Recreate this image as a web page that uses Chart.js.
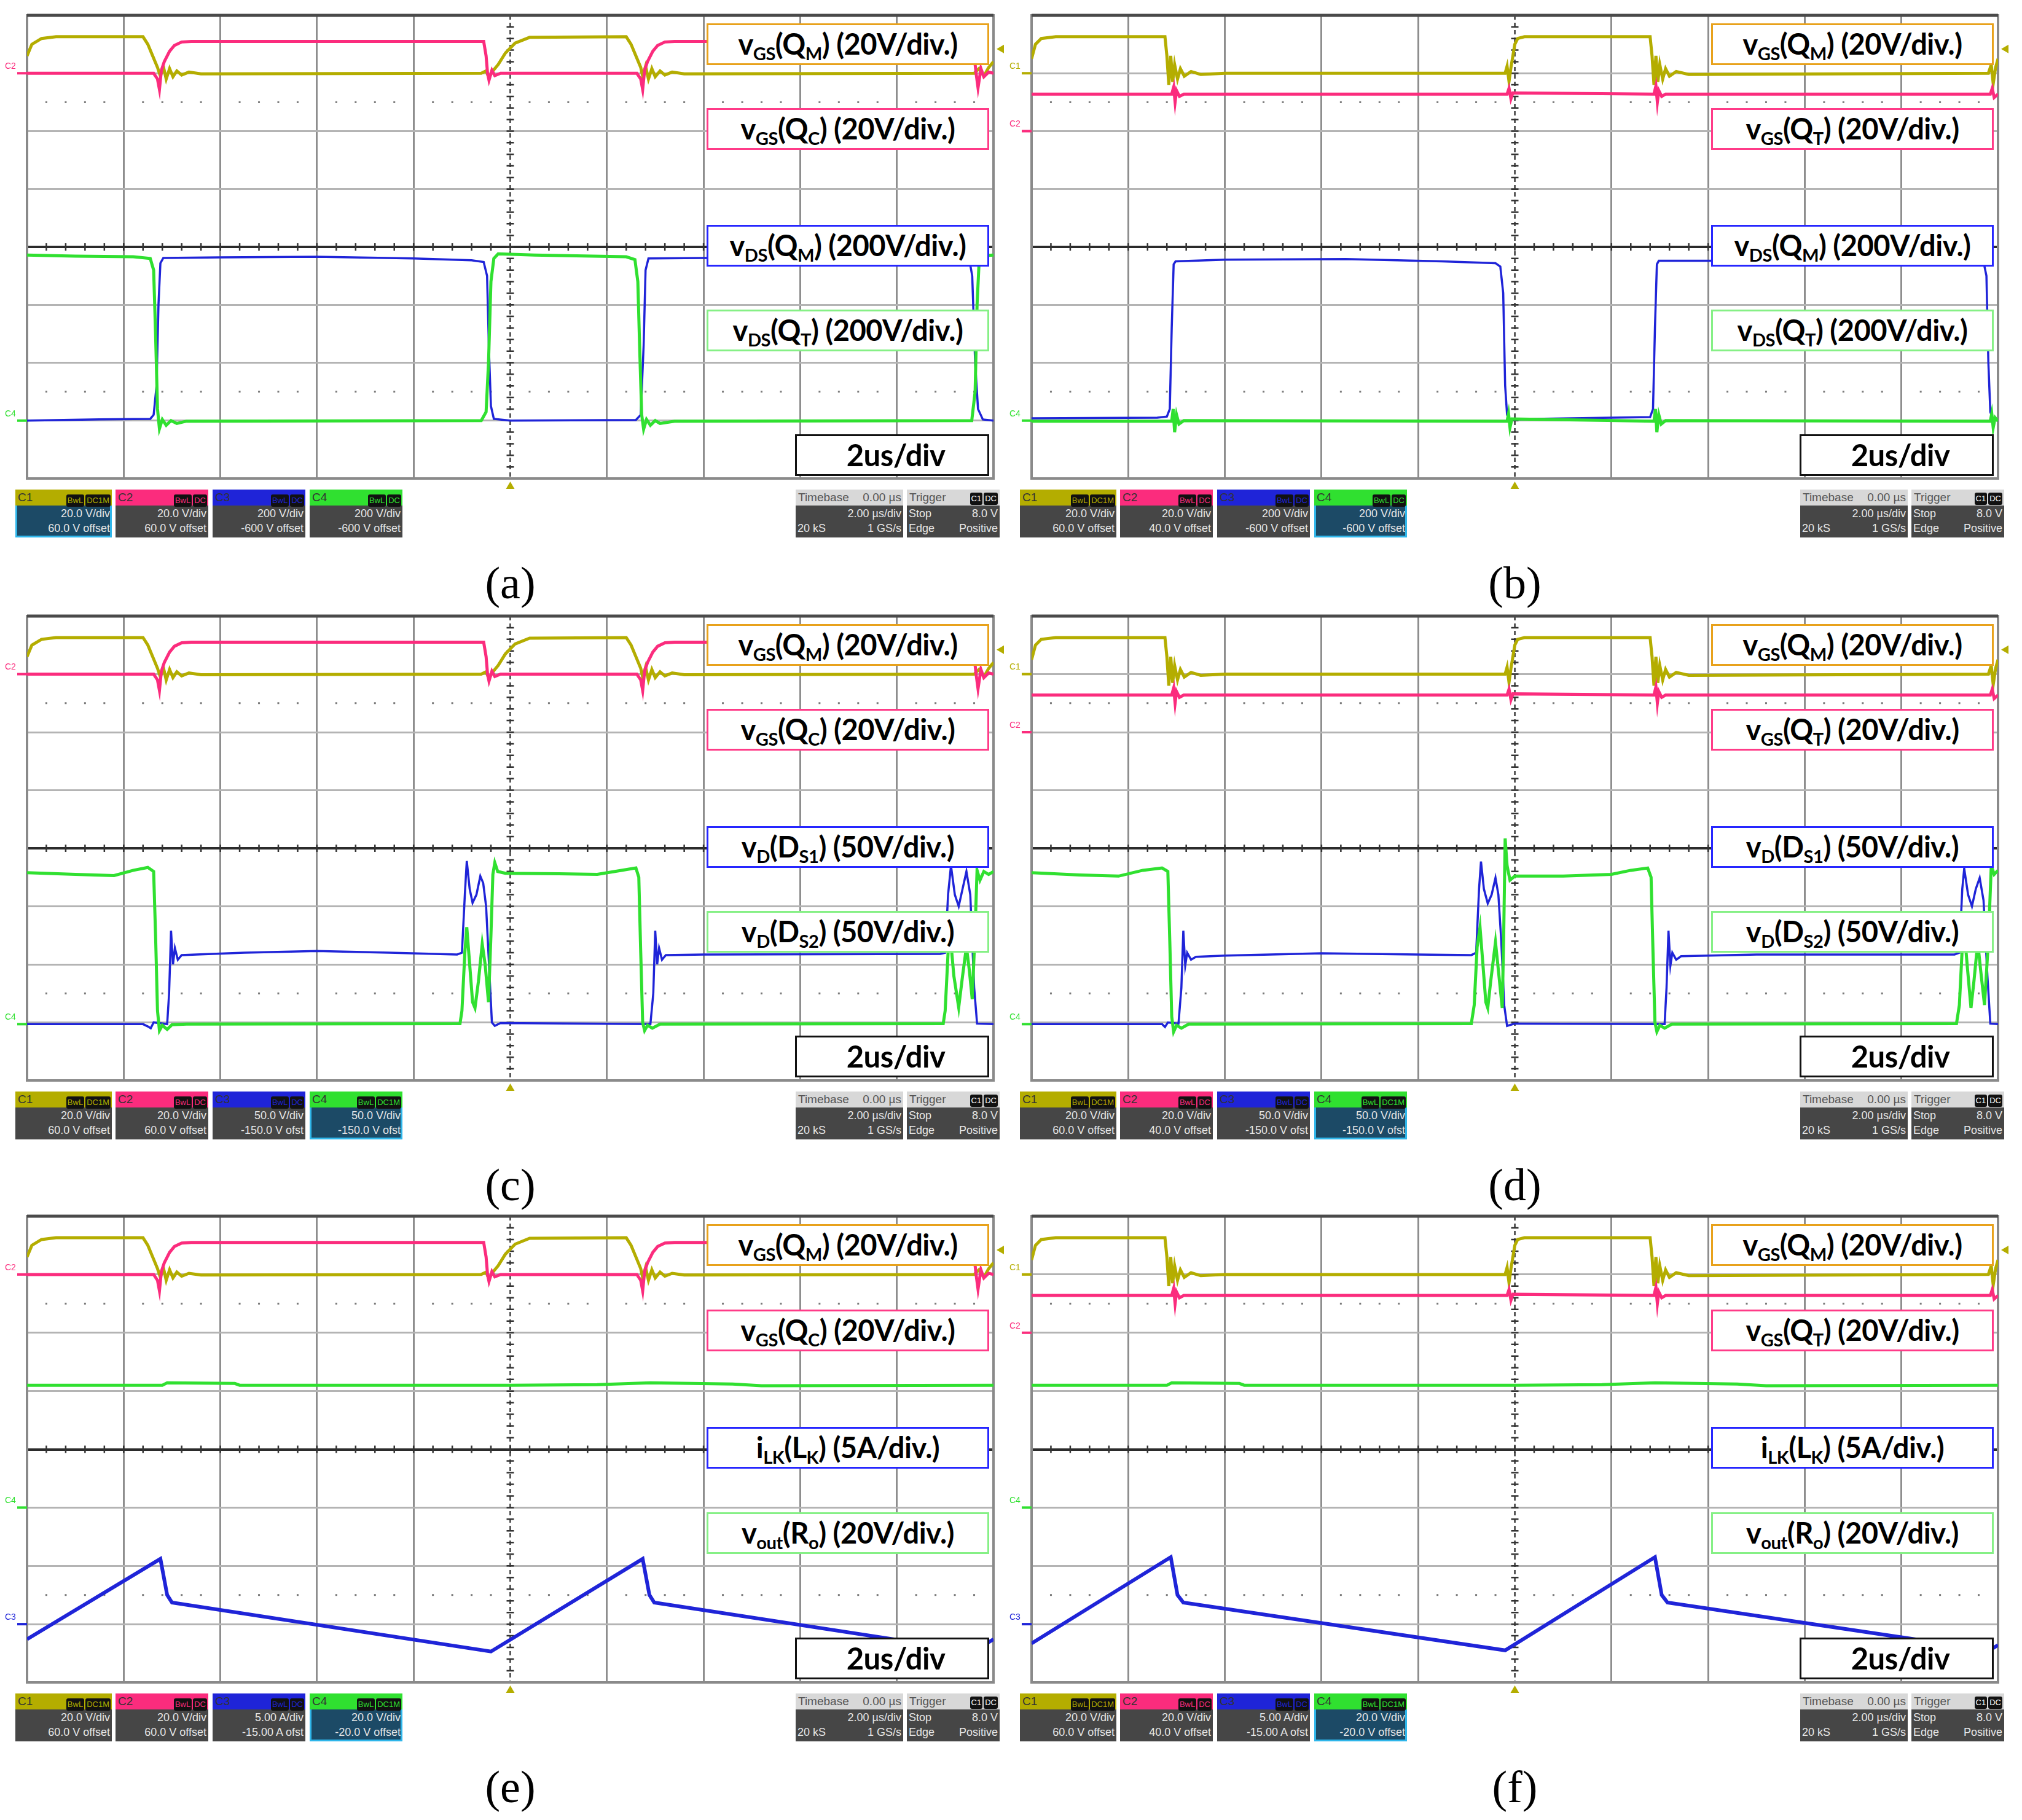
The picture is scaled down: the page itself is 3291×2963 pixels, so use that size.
<!DOCTYPE html>
<html>
<head>
<meta charset="utf-8">
<script src="https://cdn.jsdelivr.net/npm/chart.js@4.4.1/dist/chart.umd.min.js"></script>
<style>
  html,body{margin:0;padding:0;background:#fff}
  #page{position:relative;width:3291px;height:2963px;overflow:hidden;background:#fff}
  #page canvas{position:absolute}
  .lbl{position:absolute;box-sizing:border-box;border:3px solid;background:#fff;z-index:3;
       text-align:center;font:700 47px Lato,'Open Sans',sans-serif;color:#000;white-space:nowrap;letter-spacing:-0.5px}
  .lbl span{display:inline-block}
  .lbl sub{font-size:0.62em;vertical-align:-0.3em;line-height:0}
  .cap{position:absolute;font:74px 'Liberation Serif','DejaVu Serif',serif;color:#000;transform:translateX(-50%)}
  .box{position:absolute;height:78px;box-sizing:border-box;font:18px 'Liberation Sans',Arial,sans-serif;color:#e6e6e6;overflow:hidden}
  .box .hd{height:26px;position:relative;line-height:26px;padding-left:4px;color:#333;font-size:19px}
  .box .hd .bg{position:absolute;right:2px;top:3px}
  .box .hd b{display:inline-block;background:#111;border-radius:3px;font:13px/20px Arial,sans-serif;padding:0 2px;margin-left:2px}
  .box .bd{height:52px;background:#464646;padding:1px 3px 0 3px;line-height:24px}
  .box .row{display:flex;justify-content:space-between}
  .box .rt{text-align:right}
  .box.sel{outline:3px solid #2fb6ea;outline-offset:-3px}
  .box.sel .bd{background:#1c4a66}
  .box.tb .hd{background:#d8d8d8;color:#555;display:flex;justify-content:space-between;padding-right:3px}
</style>
</head>
<body>
<div id="page"></div>
<script>
// Six scope captures, 10 x 8 divisions, 2 us/div.
// Every trace point is [time in us, level in divisions from the bottom].

// gate signals, (a) (c) (e)
const vgsQM_ace = [[0,7.3],[0.1,7.5],[0.3,7.6],[0.6,7.63],[2.4,7.63],[2.5,7.5],[2.6,7.3],[2.7,7.1],[2.76,6.95],[2.82,7.12],[2.88,6.9],[2.95,7.08],[3.02,6.94],[3.1,7.04],[3.2,6.97],[3.35,7.02],[3.6,6.99],[9.4,7.0],[9.5,7.04],[9.56,6.92],[9.62,7.02],[9.75,7.15],[9.9,7.35],[10.1,7.52],[10.4,7.62],[12.4,7.63],[12.5,7.5],[12.6,7.3],[12.7,7.1],[12.74,6.95],[12.8,7.12],[12.86,6.9],[12.93,7.08],[13.0,6.94],[13.1,7.04],[13.2,6.97],[13.35,7.02],[13.6,6.99],[19.6,7.0],[19.7,7.08],[19.8,6.95],[19.9,7.1],[20,7.2]];
const vgsQC_ace = [[0,7.0],[2.62,7.0],[2.7,6.9],[2.74,6.72],[2.78,7.05],[2.84,7.2],[2.95,7.38],[3.05,7.48],[3.2,7.54],[3.4,7.55],[9.45,7.55],[9.5,7.3],[9.53,7.0],[9.56,6.88],[9.62,7.05],[9.68,6.96],[9.8,7.0],[12.62,7.0],[12.7,6.9],[12.74,6.72],[12.78,7.05],[12.84,7.2],[12.95,7.38],[13.05,7.48],[13.2,7.54],[13.4,7.55],[19.55,7.55],[19.6,7.3],[19.64,7.0],[19.68,6.75],[19.74,7.08],[19.8,6.94],[19.9,7.02],[20,7.0]];
// gate signals, (b) (d) (f)
const vgsQM_bdf = [[0,7.25],[0.08,7.5],[0.2,7.6],[0.5,7.63],[2.76,7.63],[2.8,7.3],[2.84,6.8],[2.88,7.3],[2.92,6.85],[2.96,7.15],[3.02,6.9],[3.08,7.08],[3.16,6.95],[3.3,7.03],[3.5,6.98],[4,7.0],[9.8,7.0],[9.84,7.12],[9.88,6.86],[9.92,7.1],[9.96,7.3],[10.0,7.5],[10.06,7.6],[10.2,7.63],[12.8,7.63],[12.84,7.3],[12.88,6.8],[12.92,7.3],[12.96,6.85],[13.0,7.15],[13.06,6.9],[13.12,7.08],[13.2,6.95],[13.34,7.03],[13.6,6.98],[19.8,7.0],[19.86,7.15],[19.9,6.82],[19.95,7.1],[20,7.25]];
const vgsQT_bdf = [[0,6.64],[2.9,6.64],[2.94,6.76],[2.97,6.5],[3.0,6.7],[3.06,6.6],[3.15,6.64],[9.84,6.64],[9.88,6.74],[9.92,6.56],[9.96,6.66],[12.88,6.64],[12.92,6.78],[12.95,6.5],[12.98,6.7],[13.04,6.6],[13.12,6.64],[19.84,6.64],[19.88,6.74],[19.92,6.58],[20,6.64]];

// drain-source voltages
const vdsQM_a = [[0,1.0],[1.5,1.02],[2.55,1.03],[2.62,1.1],[2.68,1.6],[2.72,3.0],[2.76,3.72],[2.82,3.81],[4,3.82],[6,3.83],[8,3.8],[9.2,3.77],[9.45,3.74],[9.52,3.5],[9.56,2.2],[9.6,1.25],[9.66,1.03],[10,1.0],[12.6,1.01],[12.7,1.1],[12.76,2.3],[12.8,3.6],[12.86,3.8],[14,3.81],[19.5,3.78],[19.56,3.5],[19.62,2.0],[19.68,1.2],[19.78,1.02],[20,1.0]];
const vdsQT_a = [[0,3.86],[1,3.84],[2.2,3.83],[2.55,3.8],[2.62,3.6],[2.66,2.5],[2.7,1.2],[2.74,0.86],[2.8,1.02],[2.88,0.92],[2.98,1.0],[3.1,0.95],[3.3,0.99],[9.4,1.0],[9.5,1.15],[9.55,2.0],[9.6,3.4],[9.66,3.8],[9.75,3.88],[10.5,3.86],[12.4,3.83],[12.58,3.78],[12.64,3.4],[12.68,2.2],[12.72,1.1],[12.76,0.85],[12.82,1.02],[12.9,0.92],[13.0,1.0],[13.1,0.95],[13.4,0.99],[19.55,1.0],[19.62,1.5],[19.66,3.0],[19.7,3.7],[19.8,3.85],[20,3.86]];
const vdsQM_b = [[0,1.04],[2.6,1.05],[2.8,1.07],[2.86,1.2],[2.9,2.6],[2.94,3.7],[2.98,3.75],[4,3.78],[6.5,3.79],[8.5,3.75],[9.6,3.72],[9.7,3.66],[9.76,3.2],[9.8,1.6],[9.84,1.1],[9.9,1.02],[10.4,1.03],[12.8,1.06],[12.86,1.2],[12.9,2.6],[12.94,3.7],[12.98,3.76],[14,3.76],[19.7,3.74],[19.76,3.5],[19.8,2.0],[19.84,1.15],[19.9,1.02],[20,1.0]];
const vdsQT_b = [[0,0.99],[2.9,0.99],[2.93,1.2],[2.96,0.8],[3.0,1.1],[3.05,0.94],[3.15,1.0],[9.84,0.99],[9.87,1.12],[9.9,0.88],[9.94,1.03],[12.88,0.99],[12.91,1.2],[12.94,0.8],[12.98,1.1],[13.03,0.94],[13.12,1.0],[19.84,0.99],[19.87,1.12],[19.9,0.88],[19.94,1.05],[20,0.99]];

// diode voltages
const vdDS1_c = [[0,0.97],[2.4,0.97],[2.5,0.93],[2.56,0.9],[2.62,1.0],[2.9,0.97],[2.94,1.5],[2.98,2.58],[3.02,2.0],[3.06,2.28],[3.12,2.08],[3.2,2.16],[3.5,2.17],[4.5,2.2],[6,2.23],[7.5,2.2],[8.9,2.17],[9.0,2.2],[9.06,3.2],[9.1,3.78],[9.16,3.3],[9.22,3.06],[9.3,3.2],[9.38,3.52],[9.44,3.4],[9.5,3.0],[9.56,2.0],[9.62,1.0],[9.68,0.94],[9.8,0.99],[12.9,0.97],[12.96,1.5],[13.0,2.58],[13.04,2.0],[13.08,2.28],[13.14,2.08],[13.22,2.16],[14,2.17],[18.9,2.18],[19.0,2.2],[19.06,3.2],[19.12,3.7],[19.2,3.2],[19.28,3.0],[19.36,3.3],[19.44,3.6],[19.52,3.2],[19.6,1.6],[19.66,0.98],[20,0.97]];
const vdDS2_c = [[0,3.58],[1,3.55],[1.8,3.53],[2.2,3.62],[2.5,3.67],[2.62,3.6],[2.66,2.5],[2.7,1.2],[2.74,0.86],[2.8,0.95],[2.9,0.88],[3.0,0.96],[3.3,0.97],[8.96,0.98],[9.0,1.2],[9.06,2.2],[9.1,2.64],[9.16,2.0],[9.22,1.35],[9.27,1.25],[9.34,1.7],[9.42,2.35],[9.48,2.0],[9.55,1.35],[9.6,2.5],[9.64,3.55],[9.68,3.75],[9.74,3.6],[9.9,3.57],[11,3.56],[11.8,3.55],[12.3,3.62],[12.6,3.66],[12.66,3.5],[12.7,2.2],[12.74,1.0],[12.78,0.86],[12.84,0.95],[12.94,0.9],[13.1,0.97],[18.96,0.98],[19.0,1.2],[19.06,2.2],[19.1,2.55],[19.18,1.8],[19.28,1.26],[19.36,1.8],[19.44,2.3],[19.5,1.9],[19.56,1.4],[19.62,2.6],[19.66,3.62],[19.72,3.45],[19.8,3.6],[19.9,3.55],[20,3.6]];
const vdDS1_d = [[0,0.97],[2.7,0.97],[2.76,0.92],[2.82,1.0],[3.04,0.98],[3.1,1.6],[3.14,2.58],[3.18,1.98],[3.22,2.2],[3.3,2.08],[3.4,2.13],[4,2.15],[6,2.19],[8,2.17],[9.1,2.16],[9.2,2.2],[9.26,3.3],[9.3,3.77],[9.36,3.3],[9.44,3.05],[9.52,3.2],[9.6,3.49],[9.66,3.2],[9.72,2.4],[9.78,1.3],[9.84,0.94],[10,0.98],[13.1,0.97],[13.14,1.6],[13.18,2.58],[13.22,1.98],[13.26,2.2],[13.34,2.08],[13.44,2.14],[15,2.17],[19.1,2.17],[19.2,2.2],[19.26,3.3],[19.3,3.65],[19.38,3.2],[19.46,3.0],[19.54,3.3],[19.62,3.49],[19.7,3.1],[19.78,1.8],[19.84,0.98],[20,0.97]];
const vdDS2_d = [[0,3.58],[1,3.54],[1.8,3.52],[2.3,3.62],[2.7,3.66],[2.82,3.6],[2.86,2.4],[2.9,1.1],[2.94,0.84],[3.0,0.95],[3.1,0.9],[3.25,0.97],[9.1,0.98],[9.16,1.3],[9.22,2.3],[9.28,2.64],[9.34,2.0],[9.4,1.35],[9.44,1.25],[9.5,1.7],[9.6,2.38],[9.66,1.9],[9.74,1.25],[9.77,2.5],[9.8,4.17],[9.84,3.7],[9.9,3.45],[10.0,3.52],[11,3.52],[12,3.55],[12.4,3.62],[12.75,3.66],[12.82,3.5],[12.86,2.2],[12.9,1.0],[12.94,0.84],[13.0,0.95],[13.1,0.9],[13.25,0.97],[19.14,0.98],[19.2,1.3],[19.26,2.3],[19.3,2.6],[19.36,2.0],[19.44,1.25],[19.5,1.7],[19.58,2.38],[19.64,1.9],[19.72,1.3],[19.8,2.4],[19.86,3.7],[19.92,3.55],[20,3.62]];

// inductor current and output voltage
const iLK_e = [[0,0.74],[2.76,2.12],[2.9,1.5],[3.0,1.37],[9.6,0.53],[12.74,2.12],[12.88,1.5],[12.98,1.37],[19.58,0.53],[20,0.74]];
const iLK_f = [[0,0.67],[2.88,2.15],[3.02,1.5],[3.14,1.37],[9.8,0.55],[12.9,2.15],[13.04,1.5],[13.16,1.37],[19.82,0.55],[20,0.64]];
const vout_ef = [[0,5.1],[2.8,5.1],[2.9,5.14],[4.3,5.13],[4.4,5.1],[10,5.1],[11.8,5.11],[12.9,5.14],[14.6,5.12],[15.2,5.09],[20,5.1]];

// channel boxes under each screen: [scale, offset, coupling]
const chanA = [['20.0 V/div','60.0 V offset','DC1M'],['20.0 V/div','60.0 V offset','DC'],['200 V/div','-600 V offset','DC'],['200 V/div','-600 V offset','DC']];
const chanB = [['20.0 V/div','60.0 V offset','DC1M'],['20.0 V/div','40.0 V offset','DC'],['200 V/div','-600 V offset','DC'],['200 V/div','-600 V offset','DC']];
const chanC = [['20.0 V/div','60.0 V offset','DC1M'],['20.0 V/div','60.0 V offset','DC'],['50.0 V/div','-150.0 V ofst','DC'],['50.0 V/div','-150.0 V ofst','DC1M']];
const chanD = [['20.0 V/div','60.0 V offset','DC1M'],['20.0 V/div','40.0 V offset','DC'],['50.0 V/div','-150.0 V ofst','DC'],['50.0 V/div','-150.0 V ofst','DC1M']];
const chanE = [['20.0 V/div','60.0 V offset','DC1M'],['20.0 V/div','60.0 V offset','DC'],['5.00 A/div','-15.00 A ofst','DC'],['20.0 V/div','-20.0 V offset','DC1M']];
const chanF = [['20.0 V/div','60.0 V offset','DC1M'],['20.0 V/div','40.0 V offset','DC'],['5.00 A/div','-15.00 A ofst','DC'],['20.0 V/div','-20.0 V offset','DC1M']];

// label texts
const L_QM = 'v<sub>GS</sub>(Q<sub>M</sub>) (20V/div.)';
const L_QC = 'v<sub>GS</sub>(Q<sub>C</sub>) (20V/div.)';
const L_QT = 'v<sub>GS</sub>(Q<sub>T</sub>) (20V/div.)';
const L_DSM = 'v<sub>DS</sub>(Q<sub>M</sub>) (200V/div.)';
const L_DST = 'v<sub>DS</sub>(Q<sub>T</sub>) (200V/div.)';
const L_DS1 = 'v<sub>D</sub>(D<sub>S1</sub>) (50V/div.)';
const L_DS2 = 'v<sub>D</sub>(D<sub>S2</sub>) (50V/div.)';
const L_ILK = 'i<sub>LK</sub>(L<sub>K</sub>) (5A/div.)';
const L_OUT = 'v<sub>out</sub>(R<sub>o</sub>) (20V/div.)';

const COLORS = ['#b4ad00','#fb2c7d','#1f24d8','#30e030'];
const WIDTHS = [5, 5, 3.5, 5];
const BOX_COLORS = ['#e8a21c','#ff3b88','#2626ff','#86f086'];

// layout
const COL_X = [44, 1679], PLOT_W = 1573;
const ROW_Y = [25, 1003, 1980], ROW_H = [754, 756, 759];
const PAD = {left:40, right:28, top:8, bottom:26};

const panels = [
  {cap:'(a)', col:0, row:0, tr:[vgsQM_ace, vgsQC_ace, vdsQM_a, vdsQT_a], lab:[L_QM,L_QC,L_DSM,L_DST], ch:chanA, sel:0, mk:[[1,7.0],[3,1.0]]},
  {cap:'(b)', col:1, row:0, tr:[vgsQM_bdf, vgsQT_bdf, vdsQM_b, vdsQT_b], lab:[L_QM,L_QT,L_DSM,L_DST], ch:chanB, sel:3, mk:[[0,7.0],[1,6.0],[3,1.0]]},
  {cap:'(c)', col:0, row:1, tr:[vgsQM_ace, vgsQC_ace, vdDS1_c, vdDS2_c], lab:[L_QM,L_QC,L_DS1,L_DS2], ch:chanC, sel:3, mk:[[1,7.0],[3,0.97]]},
  {cap:'(d)', col:1, row:1, tr:[vgsQM_bdf, vgsQT_bdf, vdDS1_d, vdDS2_d], lab:[L_QM,L_QT,L_DS1,L_DS2], ch:chanD, sel:3, mk:[[0,7.0],[1,6.0],[3,0.97]]},
  {cap:'(e)', col:0, row:2, tr:[vgsQM_ace, vgsQC_ace, iLK_e, vout_ef], lab:[L_QM,L_QC,L_ILK,L_OUT], ch:chanE, sel:3, mk:[[1,7.0],[3,3.0],[2,1.0]], thick:true},
  {cap:'(f)', col:1, row:2, tr:[vgsQM_bdf, vgsQT_bdf, iLK_f, vout_ef], lab:[L_QM,L_QT,L_ILK,L_OUT], ch:chanF, sel:3, mk:[[0,7.0],[1,6.0],[3,3.0],[2,1.0]], thick:true}
];

// scope graticule extras: dotted rows, centre ticks, frame, markers
const scopeDecor = {
  id:'scopeDecor',
  beforeDatasetsDraw(chart, args, opts){
    const {ctx, chartArea:a, scales:{x, y}} = chart;
    ctx.save();
    ctx.fillStyle = '#7a7a7a';
    [6.5, 1.5].forEach(v=>{
      const py = y.getPixelForValue(v);
      for(let k=1;k<50;k++){ if(k%5===0) continue; ctx.fillRect(x.getPixelForValue(k*0.4)-1.5, py-1.5, 3, 3); }
    });
    // centre vertical, dashed, with ticks
    const cx = x.getPixelForValue(10), cy = y.getPixelForValue(4);
    ctx.strokeStyle = '#5a5a5a'; ctx.lineWidth = 3; ctx.setLineDash([7,5]);
    ctx.beginPath(); ctx.moveTo(cx, a.top); ctx.lineTo(cx, a.bottom); ctx.stroke();
    ctx.setLineDash([]); ctx.lineWidth = 2.5;
    ctx.beginPath();
    for(let k=1;k<40;k++){ const py=y.getPixelForValue(k*0.2); ctx.moveTo(cx-6,py); ctx.lineTo(cx+6,py); }
    ctx.strokeStyle = '#333';
    for(let k=1;k<50;k++){ const px=x.getPixelForValue(k*0.4); ctx.moveTo(px,cy-6); ctx.lineTo(px,cy+6); }
    ctx.stroke();
    // frame
    ctx.strokeStyle = '#8a8a8a'; ctx.lineWidth = 4;
    ctx.strokeRect(a.left, a.top, a.right-a.left, a.bottom-a.top);
    ctx.strokeStyle = '#4a4a4a'; ctx.lineWidth = 5;
    ctx.beginPath(); ctx.moveTo(a.left, a.top); ctx.lineTo(a.right, a.top); ctx.stroke();
    ctx.restore();
  },
  afterDatasetsDraw(chart, args, opts){
    const {ctx, chartArea:a, scales:{x, y}} = chart;
    ctx.save();
    // trigger level (right) and trigger position (bottom)
    ctx.fillStyle = '#b4ad00';
    const ty = y.getPixelForValue(7.42);
    ctx.beginPath(); ctx.moveTo(a.right+5, ty); ctx.lineTo(a.right+17, ty-7); ctx.lineTo(a.right+17, ty+7); ctx.fill();
    const tx = x.getPixelForValue(10);
    ctx.beginPath(); ctx.moveTo(tx, a.bottom+5); ctx.lineTo(tx-7, a.bottom+17); ctx.lineTo(tx+7, a.bottom+17); ctx.fill();
    // channel ground markers
    ctx.font = '14px Arial, sans-serif'; ctx.textBaseline = 'bottom';
    (opts.markers||[]).forEach(([c, v])=>{
      const py = y.getPixelForValue(v);
      ctx.fillStyle = COLORS[c]; ctx.strokeStyle = COLORS[c]; ctx.lineWidth = 4;
      ctx.fillText('C'+(c+1), a.left-36, py-4);
      ctx.beginPath(); ctx.moveTo(a.left-16, py); ctx.lineTo(a.left, py); ctx.stroke();
    });
    ctx.restore();
  }
};

const page = document.getElementById('page');
const el = (tag, cls, css, html) => { const e=document.createElement(tag); if(cls) e.className=cls; if(css) e.style.cssText=css; if(html!=null) e.innerHTML=html; page.appendChild(e); return e; };

panels.forEach(p=>{
  const px = COL_X[p.col], py = ROW_Y[p.row], ph = ROW_H[p.row];
  const cv = document.createElement('canvas');
  const cw = PLOT_W+PAD.left+PAD.right, chh = ph+PAD.top+PAD.bottom;
  cv.width = cw; cv.height = chh;
  cv.style.cssText = `left:${px-PAD.left}px;top:${py-PAD.top}px;width:${cw}px;height:${chh}px`;
  page.appendChild(cv);

  // draw order: C4 on top, C1 at the bottom
  const order = [3,2,1,0];
  new Chart(cv, {
    type:'line',
    data:{datasets: order.map(c=>({
      data: p.tr[c].map(([t,v])=>({x:t, y:v})),
      borderColor: COLORS[c], borderWidth: (c===2 && p.thick) ? 6 : WIDTHS[c],
      pointRadius:0, tension:0, fill:false
    }))},
    options:{
      responsive:false, animation:false, devicePixelRatio:1,
      layout:{padding:PAD},
      plugins:{legend:{display:false}, tooltip:{enabled:false}, scopeDecor:{markers:p.mk}},
      scales:{
        x:{type:'linear', min:0, max:20, ticks:{display:false, stepSize:2},
           grid:{color:c=>c.tick.value===10 ? 'rgba(0,0,0,0)' : '#8e8e8e', lineWidth:3, drawTicks:false},
           border:{display:false}},
        y:{type:'linear', min:0, max:8, ticks:{display:false, stepSize:1},
           grid:{color:c=>c.tick.value===4 ? '#2b2b2b' : '#b4b4b4', lineWidth:c=>c.tick.value===4 ? 4 : 3, drawTicks:false},
           border:{display:false}}
      }
    },
    plugins:[scopeDecor]
  });

  // label boxes on the right of the screen
  const tops = [0.017, 0.2, 0.452, 0.635];
  p.lab.forEach((t,i)=>{
    el('div','lbl',`left:${px+1106}px;top:${py+Math.round(tops[i]*ph)}px;width:460px;height:68px;line-height:60px;border-color:${BOX_COLORS[i]}`,`<span>${t}</span>`);
  });
  el('div','lbl',`left:${px+1250}px;top:${py+Math.round(0.904*ph)}px;width:316px;height:68px;line-height:60px;border-color:#111;font-size:49px;padding-left:12px`,'<span>2us/div</span>');

  // channel info bar
  const iy = py+ph+18;
  const cx = [-19,144,302,460], cwid = [157,151,151,151];
  p.ch.forEach((c,i)=>{
    el('div','box'+(i===p.sel?' sel':''),`left:${px+cx[i]}px;top:${iy}px;width:${cwid[i]}px`,
      `<div class="hd" style="background:${COLORS[i]}">C${i+1}<span class="bg"><b style="color:${COLORS[i]}">BwL</b><b style="color:${COLORS[i]}">${c[2]}</b></span></div>`+
      `<div class="bd"><div class="rt">${c[0]}</div><div class="rt">${c[1]}</div></div>`);
  });
  el('div','box tb',`left:${px+1251}px;top:${iy}px;width:175px`,
    `<div class="hd"><span>Timebase</span><span>0.00 µs</span></div><div class="bd"><div class="rt">2.00 µs/div</div><div class="row"><span>20 kS</span><span>1 GS/s</span></div></div>`);
  el('div','box tb',`left:${px+1432}px;top:${iy}px;width:151px`,
    `<div class="hd"><span>Trigger</span><span><b style="color:#fff">C1</b><b style="color:#fff">DC</b></span></div><div class="bd"><div class="row"><span>Stop</span><span>8.0 V</span></div><div class="row"><span>Edge</span><span>Positive</span></div></div>`);

  // caption
  el('div','cap',`left:${px+PLOT_W/2}px;top:${py+ph+128}px`, p.cap);
});
</script>
</body>
</html>
